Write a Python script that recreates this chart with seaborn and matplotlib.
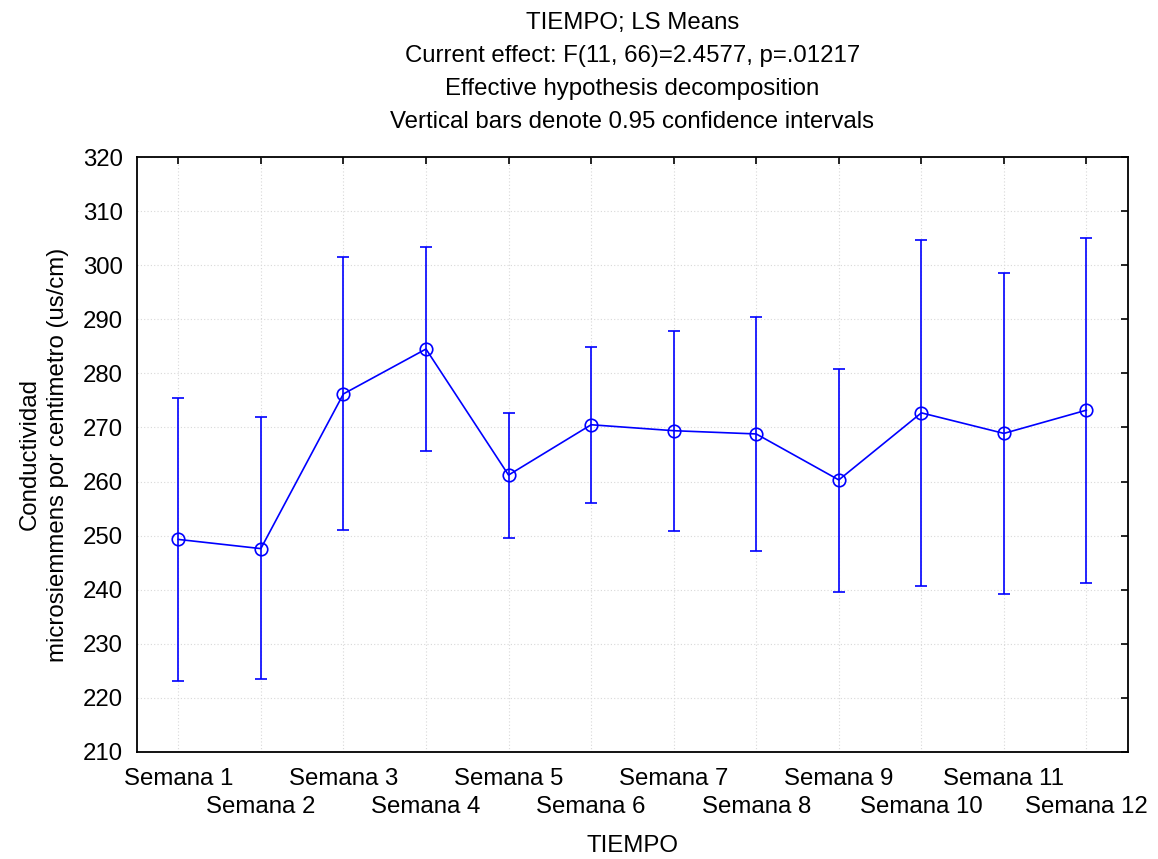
import matplotlib
matplotlib.use("Agg")
import matplotlib.pyplot as plt
import seaborn as sns
import pandas as pd

semanas = ["Semana 1", "Semana 2", "Semana 3", "Semana 4", "Semana 5", "Semana 6",
           "Semana 7", "Semana 8", "Semana 9", "Semana 10", "Semana 11", "Semana 12"]
medias = [249.3, 247.6, 276.2, 284.5, 261.2, 270.5, 269.4, 268.8, 260.3, 272.7, 268.9, 273.2]
ic_sup = [275.5, 271.9, 301.5, 303.4, 272.7, 284.9, 287.9, 290.4, 280.9, 304.7, 298.6, 305.0]
ic_inf = [223.2, 223.4, 251.1, 265.7, 249.5, 256.1, 250.9, 247.1, 239.6, 240.7, 239.2, 241.3]

sns.set_style("white")
plt.rcParams['font.family'] = ['Liberation Sans', 'DejaVu Sans']
plt.rcParams['text.color'] = 'black'
plt.rcParams['axes.labelcolor'] = 'black'
fs = 17.3

df = pd.DataFrame({"pos": range(len(semanas)), "media": medias,
                   "sup": ic_sup, "inf": ic_inf})

fig = plt.figure(figsize=(11.58, 8.59), dpi=100)
ax = fig.add_axes([0.1183, 0.1246, 0.8556, 0.6926])

azul = "#0000FF"
ax.errorbar(df["pos"], df["media"],
            yerr=[df["media"] - df["inf"], df["sup"] - df["media"]],
            fmt="none", ecolor=azul, elinewidth=1.2, capsize=4.5, capthick=1.2, zorder=2)
sns.lineplot(data=df, x="pos", y="media", ax=ax, color=azul, linewidth=1.2,
             marker="o", markersize=9, markerfacecolor="none",
             markeredgecolor=azul, markeredgewidth=1.2, zorder=3)

ax.set_xlim(-0.5, 11.5)
ax.set_ylim(210, 320)
ax.set_yticks(range(210, 321, 10))
# etiquetas alternadas en dos filas: impares como mayores, pares como menores
ax.set_xticks(df["pos"][::2])
ax.set_xticklabels(semanas[::2])
ax.set_xticks(df["pos"][1::2], minor=True)
ax.set_xticklabels(semanas[1::2], minor=True)
ax.grid(True, which="both", axis="x", color="#d8d8d8", linestyle=(0, (1, 2)), linewidth=0.8)
ax.grid(True, axis="y", color="#d8d8d8", linestyle=(0, (1, 2)), linewidth=0.8)
ax.tick_params(which="both", direction="in", top=True, right=True, length=5, width=1.2,
               labelsize=fs, colors="black")
ax.tick_params(axis="x", which="major", pad=11.5)
ax.tick_params(axis="x", which="minor", pad=32)
ax.tick_params(axis="y", pad=10)
for sp in ax.spines.values():
    sp.set_color("black")
    sp.set_linewidth(1.3)

ax.set_xlabel("TIEMPO", fontsize=fs)
ax.xaxis.set_label_coords(0.5, -0.14)
ax.set_ylabel("Conductividad\nmicrosiemmens por centimetro (us/cm)", fontsize=fs,
              labelpad=10, linespacing=1.4)
ax.set_title("TIEMPO; LS Means\nCurrent effect: F(11, 66)=2.4577, p=.01217\n"
             "Effective hypothesis decomposition\n"
             "Vertical bars denote 0.95 confidence intervals",
             fontsize=fs, linespacing=1.65, pad=21)

fig.savefig("out.png", dpi=100)
